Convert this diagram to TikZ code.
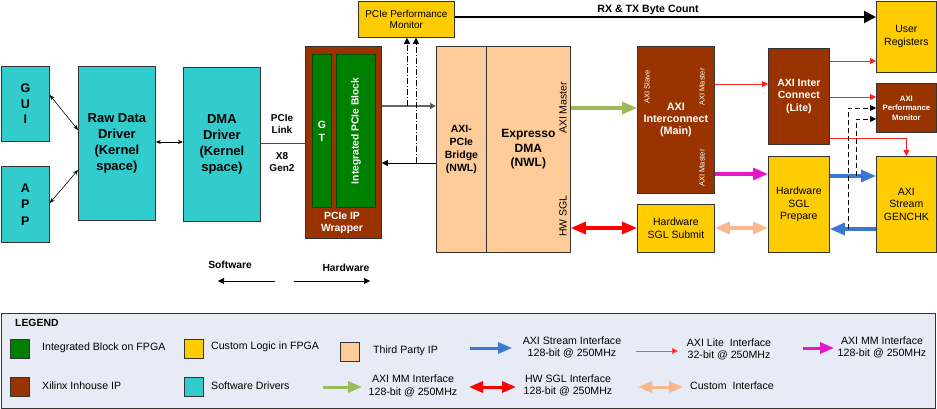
\documentclass[tikz,border=0pt]{standalone}
\usepackage{fontspec}
\setmainfont{Liberation Sans}
\usetikzlibrary{arrows.meta}
\definecolor{cyanc}{HTML}{33CCCC}
\definecolor{brownc}{HTML}{993300}
\definecolor{greenc}{HTML}{008000}
\definecolor{yellowc}{HTML}{FFCC00}
\definecolor{peachc}{HTML}{FFCC99}
\definecolor{bluec}{HTML}{3A78D4}
\definecolor{greenarr}{HTML}{9BBB59}
\definecolor{magc}{HTML}{E617C8}
\definecolor{redc}{HTML}{FF0000}
\definecolor{thinred}{HTML}{FF2020}
\definecolor{peacharr}{HTML}{F8B88B}
\definecolor{legfill}{HTML}{E6EBF5}
\definecolor{edgec}{HTML}{333333}
\newcommand\myfs[2]{\fontsize{#1}{#2}\selectfont}
\tikzset{
  box/.style={draw=edgec, line width=0.8pt, anchor=north west, inner sep=0pt, align=center},
  swbox/.style={box, fill=cyanc, font=\bfseries\myfs{13}{16}},
  brbox/.style={box, fill=brownc, text=white, font=\bfseries\myfs{10.5}{12.5}},
  grbox/.style={box, fill=greenc, draw=greenc!60!black, text=white, font=\bfseries\myfs{10.5}{13}},
  ylbox/.style={box, fill=yellowc, font=\myfs{10.5}{12.5}},
  pcbox/.style={box, fill=peachc},
  tinywhite/.style={text=white, font=\myfs{7.5}{9}, inner sep=0pt},
  lbl/.style={font=\myfs{10.6}{12.5}, align=center, inner sep=0pt},
  blbl/.style={font=\bfseries\myfs{10}{12}, align=center, inner sep=0pt},
  thinbi/.style={line width=0.6pt, {Stealth[length=5pt,width=4pt]}-{Stealth[length=5pt,width=4pt]}},
  thinar/.style={line width=0.7pt, -{Triangle[length=6pt,width=6pt]}},
  fatar/.style={line width=3.2pt, -{Triangle[length=15pt,width=12pt]}},
  fatbi/.style={line width=3.2pt, {Triangle[length=15pt,width=12pt]}-{Triangle[length=15pt,width=12pt]}},
  redthin/.style={draw=thinred, line width=0.8pt, -{Triangle[length=6pt,width=6pt]}},
  dshar/.style={line width=0.8pt, dashed, dash pattern=on 5pt off 3pt, -{Triangle[length=6pt,width=6pt]}},
  ddar/.style={line width=0.7pt, dash pattern=on 6pt off 2pt on 1pt off 2pt, -{Triangle[length=6pt,width=6pt]}},
  swatch/.style={draw=edgec, line width=0.8pt, anchor=north west, minimum width=19pt, minimum height=19pt, inner sep=0pt},
}
\begin{document}
\begin{tikzpicture}[x=1pt,y=-1pt]
\useasboundingbox (0,0) rectangle (937,409);

% software side
\node[swbox, minimum width=48pt, minimum height=75pt, font=\bfseries\myfs{12.5}{15.5}] (gui) at (1,66) {G\\U\\I};
\node[swbox, minimum width=48pt, minimum height=76pt, font=\bfseries\myfs{12.5}{16.5}] (app) at (1,166) {A\\P\\P};
\node[swbox, minimum width=77pt, minimum height=154pt] (raw) at (78,66) {Raw Data\\Driver\\(Kernel\\space)};
\node[swbox, minimum width=77pt, minimum height=154pt] (dmadrv) at (183,67) {DMA\\Driver\\(Kernel\\space)};

\draw[thinbi] (gui.east |- 0,95) -- (raw.west |- 0,130);
\draw[thinbi] (app.east |- 0,203) -- (raw.west |- 0,170);
\draw[thinbi] (raw.east |- 0,142) -- (dmadrv.west |- 0,142);

% PCIe wrapper
\node[box, fill=brownc, minimum width=76pt, minimum height=192pt] (wrapper) at (305,46) {};
\node[grbox, minimum width=19pt, minimum height=153pt] (gt) at (312,54) {G\\T};
\node[grbox, minimum width=39pt, minimum height=153pt] (ipb) at (336,54) {};
\node[rotate=90, text=white, font=\bfseries\myfs{10.3}{12}, inner sep=0pt] (ipblbl) at (ipb.center) {Integrated PCIe Block};
\node[text=white, font=\bfseries\myfs{10.4}{12}, align=center, inner sep=0pt] (wraplbl) at (342,223) {PCIe IP\\Wrapper};

\draw[draw=black!70, line width=1pt] (dmadrv.east |- 0,144) -- (wrapper.west |- 0,144);
\node[blbl] (plink) at (282,124) {PCIe\\Link};
\node[blbl] (x8) at (282,162) {X8\\Gen2};

% perf monitor
\node[ylbox, minimum width=96pt, minimum height=36pt, font=\myfs{10}{11.5}] (pmon) at (358,1) {PCIe Performance\\Monitor};

% third party
\node[pcbox, minimum width=50pt, minimum height=206pt, font=\bfseries\myfs{10.5}{13}] (bridge) at (436,46) {AXI-\\PCIe\\Bridge\\(NWL)};
\node[pcbox, minimum width=84pt, minimum height=206pt, font=\bfseries\myfs{12}{14.5}] (edma) at (486,46) {Expresso\\DMA\\(NWL)};
\node[rotate=90, font=\myfs{10.5}{12}, inner sep=0pt] (edmam) at (563,108) {AXI Master};
\node[rotate=90, font=\myfs{10.5}{12}, inner sep=0pt] (edmas) at (563,216) {HW SGL};

% wrapper <-> bridge
\draw[draw=black!60, line width=1.3pt, -{Triangle[length=6pt,width=6pt,fill=black]}] (wrapper.east |- 0,106) -- (bridge.west |- 0,106);
\draw[thinar] (bridge.west |- 0,163) -- (wrapper.east |- 0,163);
\coordinate (tap1) at (407,106);
\coordinate (tap2) at (416,163);
\draw[ddar] (tap1) -- (tap1 |- pmon.south);
\draw[ddar] (tap2) -- (tap2 |- pmon.south);

% AXI interconnect main
\node[brbox, minimum width=77pt, minimum height=147pt, font=\bfseries\myfs{10.8}{12}] (main) at (637,46) {AXI\\Interconnect\\(Main)};
\node[tinywhite, rotate=90] (mslave) at (647,87) {AXI Slave};
\node[tinywhite, rotate=90] (mmast1) at (702,87) {AXI Master};
\node[tinywhite, rotate=90] (mmast2) at (702,168) {AXI Master};

\node[ylbox, minimum width=77pt, minimum height=48pt] (submit) at (637,204) {Hardware\\SGL Submit};
\node[ylbox, minimum width=60pt, minimum height=71pt, font=\myfs{10.5}{13}] (userreg) at (876,1) {User\\Registers};
\node[brbox, minimum width=61pt, minimum height=96pt] (lite) at (768,48) {AXI Inter\\Connect\\(Lite)};
\node[brbox, minimum width=60pt, minimum height=49pt, font=\bfseries\myfs{7.8}{9.5}] (apm) at (876,83) {AXI\\Performance\\Monitor};
\node[ylbox, minimum width=61pt, minimum height=96pt] (prepare) at (768,156) {Hardware\\SGL\\Prepare};
\node[ylbox, minimum width=60pt, minimum height=96pt] (genchk) at (876,156) {AXI\\Stream\\GENCHK};

% RX TX
\draw[line width=2pt, -{Triangle[length=12pt,width=12pt]}] (pmon.east |- 0,17) -- (userreg.west |- 0,17);
\node[font=\bfseries\myfs{10.6}{12}, inner sep=0pt] (rxtx) at (648,10) {RX \& TX Byte Count};

% fat arrows
\draw[fatar, draw=greenarr] (edma.east |- 0,108) -- (main.west |- 0,108);
\draw[fatbi, draw=redc] (edma.east |- 0,228) -- (submit.west |- 0,228);
\draw[fatar, draw=magc] (main.east |- 0,174) -- (prepare.west |- 0,174);
\draw[fatar, draw=bluec] (prepare.east |- 0,176) -- (genchk.west |- 0,176);
\draw[fatar, draw=bluec] (genchk.west |- 0,229) -- (prepare.east |- 0,229);
\draw[fatbi, draw=peacharr] (submit.east |- 0,228) -- (prepare.west |- 0,228);

% thin red
\draw[redthin] (main.east |- 0,84) -- (lite.west |- 0,84);
\draw[redthin] (lite.east |- 0,61) -- (userreg.west |- 0,61);
\draw[redthin] (lite.east |- 0,97) -- (apm.west |- 0,97);
\draw[redthin] (lite.east |- 0,138) -| (genchk.north);

% dashed
\coordinate (d1) at (848,229);
\coordinate (d2) at (856,176);
\draw[dshar] (d1) |- (apm.west |- 0,108);
\draw[dshar] (d2) |- (apm.west |- 0,119);

% software / hardware
\node[font=\bfseries\myfs{10.3}{12}, inner sep=0pt] (swlbl) at (230,265) {Software};
\node[font=\bfseries\myfs{10.3}{12}, inner sep=0pt] (hwlbl) at (346,268) {Hardware};
\coordinate (swA) at (275,281);
\coordinate (swB) at (218,281);
\coordinate (hwA) at (294,281);
\coordinate (hwB) at (370,281);
\draw[thinar] (swA) -- (swB);
\draw[thinar] (hwA) -- (hwB);

% legend
\node[draw=edgec, line width=1pt, fill=legfill, anchor=north west, minimum width=934pt, minimum height=95pt, inner sep=0pt] (legend) at (1,313) {};
\node[font=\bfseries\myfs{10.4}{12}, anchor=west, inner sep=0pt] (legt) at (15,323) {LEGEND};
\node[swatch, fill=greenc] (s1) at (10,339) {};
\node[lbl, anchor=west] (t1) at (42,348) {Integrated Block on FPGA};
\node[swatch, fill=brownc] (s2) at (10,377) {};
\node[lbl, anchor=west] (t2) at (42,386) {Xilinx Inhouse IP};
\node[swatch, fill=yellowc] (s3) at (184,339) {};
\node[lbl, anchor=west] (t3) at (211,347) {Custom Logic in FPGA};
\node[swatch, fill=cyanc] (s4) at (184,377) {};
\node[lbl, anchor=west] (t4) at (211,386) {Software Drivers};
\node[swatch, fill=peachc] (s5) at (340,342) {};
\node[lbl, anchor=west] (t5) at (373,351) {Third Party IP};

\coordinate (la1) at (470,348); \coordinate (lb1) at (512,348);
\draw[draw=bluec, line width=3pt, -{Triangle[length=14pt,width=11pt]}] (la1) -- (lb1);
\node[lbl] (lt1) at (572,347.5) {AXI Stream Interface\\128-bit @ 250MHz};

\coordinate (la2) at (636,351); \coordinate (lb2) at (678,351);
\draw[draw=thinred!80, line width=1pt, -{Triangle[length=6pt,width=6pt,fill=redc]}] (la2) -- (lb2);
\node[lbl] (lt2) at (729,349.5) {AXI Lite~ Interface\\32-bit @ 250MHz};

\coordinate (la3) at (803,348); \coordinate (lb3) at (834,348);
\draw[draw=magc, line width=3pt, -{Triangle[length=14pt,width=11pt]}] (la3) -- (lb3);
\node[lbl] (lt3) at (882,347.5) {AXI MM Interface\\128-bit @ 250MHz};

\coordinate (la4) at (323,387); \coordinate (lb4) at (362,387);
\draw[draw=greenarr, line width=3pt, -{Triangle[length=14pt,width=11pt]}] (la4) -- (lb4);
\node[lbl] (lt4) at (413,386) {AXI MM Interface\\128-bit @ 250MHz};

\coordinate (la5) at (469,387); \coordinate (lb5) at (516,387);
\draw[draw=redc, line width=3pt, {Triangle[length=14pt,width=11pt]}-{Triangle[length=14pt,width=11pt]}] (la5) -- (lb5);
\node[lbl] (lt5) at (568,385.5) {HW SGL Interface\\128-bit @ 250MHz};

\coordinate (la6) at (638,387); \coordinate (lb6) at (683,387);
\draw[draw=peacharr, line width=3pt, {Triangle[length=14pt,width=11pt]}-{Triangle[length=14pt,width=11pt]}] (la6) -- (lb6);
\node[lbl] (lt6) at (732,386) {Custom~ Interface};
\end{tikzpicture}
\end{document}
